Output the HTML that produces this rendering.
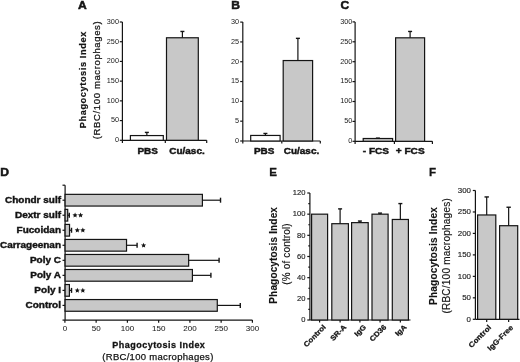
<!DOCTYPE html>
<html><head><meta charset="utf-8"><style>
html,body{margin:0;padding:0;background:#fff;}
body{width:520px;height:362px;overflow:hidden;}
svg{display:block;font-family:"Liberation Sans", sans-serif;filter:grayscale(1);}
</style></head><body>
<svg width="520" height="362" viewBox="0 0 520 362">
<rect x="0" y="0" width="520" height="362" fill="#fff"/>
<text transform="translate(78.00 8.70) scale(1.100 1)" font-size="11" font-weight="bold" text-anchor="start" fill="#141414" stroke="#141414" stroke-width="0.5">A</text>
<text transform="translate(86.30 79.70) rotate(-90)" font-size="9.2" font-weight="bold" text-anchor="middle" fill="#141414" stroke="#141414" stroke-width="0.2" letter-spacing="0.6">Phagocytosis Index</text>
<text transform="translate(99.60 79.98) rotate(-90)" font-size="9.5" font-weight="normal" text-anchor="middle" fill="#141414" stroke="#141414" stroke-width="0.25" letter-spacing="0.64">(RBC/100 macrophages)</text>
<line x1="122.40" y1="22.00" x2="122.40" y2="142.90" stroke="#141414" stroke-width="1.2"/>
<line x1="119.80" y1="140.30" x2="122.40" y2="140.30" stroke="#141414" stroke-width="1.2"/>
<text transform="translate(119.00 142.10)" font-size="7.3" font-weight="normal" text-anchor="end" fill="#222">0</text>
<line x1="119.80" y1="120.58" x2="122.40" y2="120.58" stroke="#141414" stroke-width="1.2"/>
<text transform="translate(119.00 122.38)" font-size="7.3" font-weight="normal" text-anchor="end" fill="#222">50</text>
<line x1="119.80" y1="100.87" x2="122.40" y2="100.87" stroke="#141414" stroke-width="1.2"/>
<text transform="translate(119.00 102.67)" font-size="7.3" font-weight="normal" text-anchor="end" fill="#222">100</text>
<line x1="119.80" y1="81.15" x2="122.40" y2="81.15" stroke="#141414" stroke-width="1.2"/>
<text transform="translate(119.00 82.95)" font-size="7.3" font-weight="normal" text-anchor="end" fill="#222">150</text>
<line x1="119.80" y1="61.43" x2="122.40" y2="61.43" stroke="#141414" stroke-width="1.2"/>
<text transform="translate(119.00 63.23)" font-size="7.3" font-weight="normal" text-anchor="end" fill="#222">200</text>
<line x1="119.80" y1="41.72" x2="122.40" y2="41.72" stroke="#141414" stroke-width="1.2"/>
<text transform="translate(119.00 43.52)" font-size="7.3" font-weight="normal" text-anchor="end" fill="#222">250</text>
<line x1="119.80" y1="22.00" x2="122.40" y2="22.00" stroke="#141414" stroke-width="1.2"/>
<text transform="translate(119.00 23.80)" font-size="7.3" font-weight="normal" text-anchor="end" fill="#222">300</text>
<line x1="122.40" y1="140.30" x2="206.70" y2="140.30" stroke="#141414" stroke-width="1.2"/>
<line x1="165.30" y1="140.30" x2="165.30" y2="142.90" stroke="#141414" stroke-width="1.2"/>
<line x1="206.70" y1="140.30" x2="206.70" y2="142.90" stroke="#141414" stroke-width="1.2"/>
<rect x="130.40" y="135.57" width="32.90" height="4.73" fill="#ffffff" stroke="#141414" stroke-width="1.2"/>
<line x1="146.85" y1="132.41" x2="146.85" y2="135.57" stroke="#141414" stroke-width="1.2"/>
<line x1="144.85" y1="132.41" x2="148.85" y2="132.41" stroke="#141414" stroke-width="1.4"/>
<text transform="translate(147.70 154.40) scale(1.060 1)" font-size="9.4" font-weight="bold" text-anchor="middle" fill="#141414" stroke="#141414" stroke-width="0.45">PBS</text>
<rect x="166.50" y="37.77" width="31.80" height="102.53" fill="#c8c8c8" stroke="#141414" stroke-width="1.2"/>
<line x1="182.40" y1="31.46" x2="182.40" y2="37.77" stroke="#141414" stroke-width="1.2"/>
<line x1="180.40" y1="31.46" x2="184.40" y2="31.46" stroke="#141414" stroke-width="1.4"/>
<text transform="translate(187.00 154.40) scale(1.060 1)" font-size="9.4" font-weight="bold" text-anchor="middle" fill="#141414" stroke="#141414" stroke-width="0.45">Cu/asc.</text>
<text transform="translate(231.20 8.70) scale(1.100 1)" font-size="11" font-weight="bold" text-anchor="start" fill="#141414" stroke="#141414" stroke-width="0.5">B</text>
<line x1="242.80" y1="22.10" x2="242.80" y2="143.60" stroke="#141414" stroke-width="1.2"/>
<line x1="240.20" y1="141.00" x2="242.80" y2="141.00" stroke="#141414" stroke-width="1.2"/>
<text transform="translate(239.00 142.80)" font-size="7.3" font-weight="normal" text-anchor="end" fill="#222">0</text>
<line x1="240.20" y1="121.18" x2="242.80" y2="121.18" stroke="#141414" stroke-width="1.2"/>
<text transform="translate(239.00 122.98)" font-size="7.3" font-weight="normal" text-anchor="end" fill="#222">5</text>
<line x1="240.20" y1="101.37" x2="242.80" y2="101.37" stroke="#141414" stroke-width="1.2"/>
<text transform="translate(239.00 103.17)" font-size="7.3" font-weight="normal" text-anchor="end" fill="#222">10</text>
<line x1="240.20" y1="81.55" x2="242.80" y2="81.55" stroke="#141414" stroke-width="1.2"/>
<text transform="translate(239.00 83.35)" font-size="7.3" font-weight="normal" text-anchor="end" fill="#222">15</text>
<line x1="240.20" y1="61.73" x2="242.80" y2="61.73" stroke="#141414" stroke-width="1.2"/>
<text transform="translate(239.00 63.53)" font-size="7.3" font-weight="normal" text-anchor="end" fill="#222">20</text>
<line x1="240.20" y1="41.92" x2="242.80" y2="41.92" stroke="#141414" stroke-width="1.2"/>
<text transform="translate(239.00 43.72)" font-size="7.3" font-weight="normal" text-anchor="end" fill="#222">25</text>
<line x1="240.20" y1="22.10" x2="242.80" y2="22.10" stroke="#141414" stroke-width="1.2"/>
<text transform="translate(239.00 23.90)" font-size="7.3" font-weight="normal" text-anchor="end" fill="#222">30</text>
<line x1="242.80" y1="141.00" x2="320.30" y2="141.00" stroke="#141414" stroke-width="1.2"/>
<line x1="281.80" y1="141.00" x2="281.80" y2="143.60" stroke="#141414" stroke-width="1.2"/>
<line x1="320.30" y1="141.00" x2="320.30" y2="143.60" stroke="#141414" stroke-width="1.2"/>
<rect x="250.70" y="135.45" width="29.40" height="5.55" fill="#ffffff" stroke="#141414" stroke-width="1.2"/>
<line x1="265.40" y1="133.47" x2="265.40" y2="135.45" stroke="#141414" stroke-width="1.2"/>
<line x1="263.40" y1="133.47" x2="267.40" y2="133.47" stroke="#141414" stroke-width="1.4"/>
<text transform="translate(264.10 154.40) scale(1.060 1)" font-size="9.4" font-weight="bold" text-anchor="middle" fill="#141414" stroke="#141414" stroke-width="0.45">PBS</text>
<rect x="283.20" y="60.54" width="29.40" height="80.46" fill="#c8c8c8" stroke="#141414" stroke-width="1.2"/>
<line x1="297.90" y1="38.35" x2="297.90" y2="60.54" stroke="#141414" stroke-width="1.2"/>
<line x1="295.90" y1="38.35" x2="299.90" y2="38.35" stroke="#141414" stroke-width="1.4"/>
<text transform="translate(301.50 154.40) scale(1.060 1)" font-size="9.4" font-weight="bold" text-anchor="middle" fill="#141414" stroke="#141414" stroke-width="0.45">Cu/asc.</text>
<text transform="translate(340.50 8.70) scale(1.100 1)" font-size="11" font-weight="bold" text-anchor="start" fill="#141414" stroke="#141414" stroke-width="0.5">C</text>
<line x1="355.10" y1="21.90" x2="355.10" y2="143.90" stroke="#141414" stroke-width="1.2"/>
<line x1="352.50" y1="141.30" x2="355.10" y2="141.30" stroke="#141414" stroke-width="1.2"/>
<text transform="translate(352.40 143.10)" font-size="7.3" font-weight="normal" text-anchor="end" fill="#222">0</text>
<line x1="352.50" y1="121.40" x2="355.10" y2="121.40" stroke="#141414" stroke-width="1.2"/>
<text transform="translate(352.40 123.20)" font-size="7.3" font-weight="normal" text-anchor="end" fill="#222">50</text>
<line x1="352.50" y1="101.50" x2="355.10" y2="101.50" stroke="#141414" stroke-width="1.2"/>
<text transform="translate(352.40 103.30)" font-size="7.3" font-weight="normal" text-anchor="end" fill="#222">100</text>
<line x1="352.50" y1="81.60" x2="355.10" y2="81.60" stroke="#141414" stroke-width="1.2"/>
<text transform="translate(352.40 83.40)" font-size="7.3" font-weight="normal" text-anchor="end" fill="#222">150</text>
<line x1="352.50" y1="61.70" x2="355.10" y2="61.70" stroke="#141414" stroke-width="1.2"/>
<text transform="translate(352.40 63.50)" font-size="7.3" font-weight="normal" text-anchor="end" fill="#222">200</text>
<line x1="352.50" y1="41.80" x2="355.10" y2="41.80" stroke="#141414" stroke-width="1.2"/>
<text transform="translate(352.40 43.60)" font-size="7.3" font-weight="normal" text-anchor="end" fill="#222">250</text>
<line x1="352.50" y1="21.90" x2="355.10" y2="21.90" stroke="#141414" stroke-width="1.2"/>
<text transform="translate(352.40 23.70)" font-size="7.3" font-weight="normal" text-anchor="end" fill="#222">300</text>
<line x1="355.10" y1="141.30" x2="432.40" y2="141.30" stroke="#141414" stroke-width="1.2"/>
<line x1="394.40" y1="141.30" x2="394.40" y2="143.90" stroke="#141414" stroke-width="1.2"/>
<line x1="432.40" y1="141.30" x2="432.40" y2="143.90" stroke="#141414" stroke-width="1.2"/>
<rect x="363.20" y="138.51" width="29.40" height="2.79" fill="#c8c8c8" stroke="#141414" stroke-width="1.2"/>
<line x1="377.90" y1="138.12" x2="377.90" y2="138.51" stroke="#141414" stroke-width="1.2"/>
<line x1="375.90" y1="138.12" x2="379.90" y2="138.12" stroke="#141414" stroke-width="1.4"/>
<text transform="translate(375.90 154.40) scale(1.050 1)" font-size="9.6" font-weight="bold" text-anchor="middle" fill="#141414" stroke="#141414" stroke-width="0.45">- FCS</text>
<rect x="395.60" y="37.82" width="29.00" height="103.48" fill="#c8c8c8" stroke="#141414" stroke-width="1.2"/>
<line x1="410.10" y1="31.45" x2="410.10" y2="37.82" stroke="#141414" stroke-width="1.2"/>
<line x1="408.10" y1="31.45" x2="412.10" y2="31.45" stroke="#141414" stroke-width="1.4"/>
<text transform="translate(410.20 154.40) scale(1.050 1)" font-size="9.6" font-weight="bold" text-anchor="middle" fill="#141414" stroke="#141414" stroke-width="0.45">+ FCS</text>
<text transform="translate(0.30 175.70) scale(1.100 1)" font-size="11" font-weight="bold" text-anchor="start" fill="#141414" stroke="#141414" stroke-width="0.5">D</text>
<line x1="65.10" y1="185.20" x2="65.10" y2="320.10" stroke="#141414" stroke-width="1.2"/>
<line x1="62.50" y1="185.20" x2="65.10" y2="185.20" stroke="#141414" stroke-width="1.2"/>
<line x1="62.50" y1="320.10" x2="65.10" y2="320.10" stroke="#141414" stroke-width="1.2"/>
<line x1="65.10" y1="320.10" x2="252.40" y2="320.10" stroke="#141414" stroke-width="1.2"/>
<line x1="64.90" y1="320.10" x2="64.90" y2="322.70" stroke="#141414" stroke-width="1.2"/>
<text transform="translate(64.90 330.90)" font-size="8" font-weight="normal" text-anchor="middle" fill="#222" stroke="#222" stroke-width="0.05">0</text>
<line x1="96.15" y1="320.10" x2="96.15" y2="322.70" stroke="#141414" stroke-width="1.2"/>
<text transform="translate(96.15 330.90)" font-size="8" font-weight="normal" text-anchor="middle" fill="#222" stroke="#222" stroke-width="0.05">50</text>
<line x1="127.40" y1="320.10" x2="127.40" y2="322.70" stroke="#141414" stroke-width="1.2"/>
<text transform="translate(127.40 330.90)" font-size="8" font-weight="normal" text-anchor="middle" fill="#222" stroke="#222" stroke-width="0.05">100</text>
<line x1="158.65" y1="320.10" x2="158.65" y2="322.70" stroke="#141414" stroke-width="1.2"/>
<text transform="translate(158.65 330.90)" font-size="8" font-weight="normal" text-anchor="middle" fill="#222" stroke="#222" stroke-width="0.05">150</text>
<line x1="189.90" y1="320.10" x2="189.90" y2="322.70" stroke="#141414" stroke-width="1.2"/>
<text transform="translate(189.90 330.90)" font-size="8" font-weight="normal" text-anchor="middle" fill="#222" stroke="#222" stroke-width="0.05">200</text>
<line x1="221.15" y1="320.10" x2="221.15" y2="322.70" stroke="#141414" stroke-width="1.2"/>
<text transform="translate(221.15 330.90)" font-size="8" font-weight="normal" text-anchor="middle" fill="#222" stroke="#222" stroke-width="0.05">250</text>
<line x1="252.40" y1="320.10" x2="252.40" y2="322.70" stroke="#141414" stroke-width="1.2"/>
<text transform="translate(252.40 330.90)" font-size="8" font-weight="normal" text-anchor="middle" fill="#222" stroke="#222" stroke-width="0.05">300</text>
<line x1="62.50" y1="200.20" x2="65.10" y2="200.20" stroke="#141414" stroke-width="1.2"/>
<text transform="translate(61.00 203.20) scale(1.110 1)" font-size="9" font-weight="bold" text-anchor="end" fill="#141414" stroke="#141414" stroke-width="0.4">Chondr sulf</text>
<rect x="65.10" y="194.35" width="137.30" height="11.70" fill="#c8c8c8" stroke="#141414" stroke-width="1.2"/>
<line x1="202.40" y1="200.20" x2="220.53" y2="200.20" stroke="#141414" stroke-width="1.2"/>
<line x1="220.53" y1="197.70" x2="220.53" y2="202.70" stroke="#141414" stroke-width="1.4"/>
<line x1="62.50" y1="215.23" x2="65.10" y2="215.23" stroke="#141414" stroke-width="1.2"/>
<text transform="translate(61.00 218.23) scale(1.110 1)" font-size="9" font-weight="bold" text-anchor="end" fill="#141414" stroke="#141414" stroke-width="0.4">Dextr sulf</text>
<rect x="65.10" y="209.38" width="2.61" height="11.70" fill="#c8c8c8" stroke="#141414" stroke-width="1.2"/>
<line x1="67.71" y1="215.23" x2="69.28" y2="215.23" stroke="#141414" stroke-width="1.2"/>
<line x1="69.28" y1="212.73" x2="69.28" y2="217.73" stroke="#141414" stroke-width="1.4"/>
<polygon points="75.08,212.58 75.81,214.32 77.69,214.48 76.26,215.72 76.69,217.55 75.08,216.58 73.46,217.55 73.89,215.72 72.46,214.48 74.34,214.32" fill="#141414"/>
<polygon points="80.58,212.58 81.31,214.32 83.19,214.48 81.76,215.72 82.19,217.55 80.58,216.58 78.96,217.55 79.39,215.72 77.96,214.48 79.84,214.32" fill="#141414"/>
<line x1="62.50" y1="230.26" x2="65.10" y2="230.26" stroke="#141414" stroke-width="1.2"/>
<text transform="translate(61.00 233.26) scale(1.110 1)" font-size="9" font-weight="bold" text-anchor="end" fill="#141414" stroke="#141414" stroke-width="0.4">Fucoidan</text>
<rect x="65.10" y="224.41" width="4.43" height="11.70" fill="#c8c8c8" stroke="#141414" stroke-width="1.2"/>
<line x1="69.53" y1="230.26" x2="71.53" y2="230.26" stroke="#141414" stroke-width="1.2"/>
<line x1="71.53" y1="227.76" x2="71.53" y2="232.76" stroke="#141414" stroke-width="1.4"/>
<polygon points="77.33,227.61 78.06,229.35 79.94,229.51 78.51,230.75 78.94,232.58 77.33,231.61 75.71,232.58 76.14,230.75 74.71,229.51 76.59,229.35" fill="#141414"/>
<polygon points="82.83,227.61 83.56,229.35 85.44,229.51 84.01,230.75 84.44,232.58 82.83,231.61 81.21,232.58 81.64,230.75 80.21,229.51 82.09,229.35" fill="#141414"/>
<line x1="62.50" y1="245.29" x2="65.10" y2="245.29" stroke="#141414" stroke-width="1.2"/>
<text transform="translate(61.00 248.29) scale(1.110 1)" font-size="9" font-weight="bold" text-anchor="end" fill="#141414" stroke="#141414" stroke-width="0.4">Carrageenan</text>
<rect x="65.10" y="239.44" width="61.43" height="11.70" fill="#c8c8c8" stroke="#141414" stroke-width="1.2"/>
<line x1="126.53" y1="245.29" x2="137.09" y2="245.29" stroke="#141414" stroke-width="1.2"/>
<line x1="137.09" y1="242.79" x2="137.09" y2="247.79" stroke="#141414" stroke-width="1.4"/>
<polygon points="143.59,242.64 144.32,244.38 146.20,244.54 144.78,245.78 145.20,247.61 143.59,246.64 141.97,247.61 142.40,245.78 140.97,244.54 142.85,244.38" fill="#141414"/>
<line x1="62.50" y1="260.32" x2="65.10" y2="260.32" stroke="#141414" stroke-width="1.2"/>
<text transform="translate(61.00 263.32) scale(1.110 1)" font-size="9" font-weight="bold" text-anchor="end" fill="#141414" stroke="#141414" stroke-width="0.4">Poly C</text>
<rect x="65.10" y="254.47" width="123.55" height="11.70" fill="#c8c8c8" stroke="#141414" stroke-width="1.2"/>
<line x1="188.65" y1="260.32" x2="219.09" y2="260.32" stroke="#141414" stroke-width="1.2"/>
<line x1="219.09" y1="257.82" x2="219.09" y2="262.82" stroke="#141414" stroke-width="1.4"/>
<line x1="62.50" y1="275.35" x2="65.10" y2="275.35" stroke="#141414" stroke-width="1.2"/>
<text transform="translate(61.00 278.35) scale(1.110 1)" font-size="9" font-weight="bold" text-anchor="end" fill="#141414" stroke="#141414" stroke-width="0.4">Poly A</text>
<rect x="65.10" y="269.50" width="127.30" height="11.70" fill="#c8c8c8" stroke="#141414" stroke-width="1.2"/>
<line x1="192.40" y1="275.35" x2="210.90" y2="275.35" stroke="#141414" stroke-width="1.2"/>
<line x1="210.90" y1="272.85" x2="210.90" y2="277.85" stroke="#141414" stroke-width="1.4"/>
<line x1="62.50" y1="290.38" x2="65.10" y2="290.38" stroke="#141414" stroke-width="1.2"/>
<text transform="translate(61.00 293.38) scale(1.110 1)" font-size="9" font-weight="bold" text-anchor="end" fill="#141414" stroke="#141414" stroke-width="0.4">Poly I</text>
<rect x="65.10" y="284.53" width="4.30" height="11.70" fill="#c8c8c8" stroke="#141414" stroke-width="1.2"/>
<line x1="69.40" y1="290.38" x2="71.53" y2="290.38" stroke="#141414" stroke-width="1.2"/>
<line x1="71.53" y1="287.88" x2="71.53" y2="292.88" stroke="#141414" stroke-width="1.4"/>
<polygon points="77.33,287.73 78.06,289.47 79.94,289.63 78.51,290.87 78.94,292.70 77.33,291.73 75.71,292.70 76.14,290.87 74.71,289.63 76.59,289.47" fill="#141414"/>
<polygon points="82.83,287.73 83.56,289.47 85.44,289.63 84.01,290.87 84.44,292.70 82.83,291.73 81.21,292.70 81.64,290.87 80.21,289.63 82.09,289.47" fill="#141414"/>
<line x1="62.50" y1="305.41" x2="65.10" y2="305.41" stroke="#141414" stroke-width="1.2"/>
<text transform="translate(61.00 308.41) scale(1.110 1)" font-size="9" font-weight="bold" text-anchor="end" fill="#141414" stroke="#141414" stroke-width="0.4">Control</text>
<rect x="65.10" y="299.56" width="152.18" height="11.70" fill="#c8c8c8" stroke="#141414" stroke-width="1.2"/>
<line x1="217.28" y1="305.41" x2="240.28" y2="305.41" stroke="#141414" stroke-width="1.2"/>
<line x1="240.28" y1="302.91" x2="240.28" y2="307.91" stroke="#141414" stroke-width="1.4"/>
<text transform="translate(158.84 347.60)" font-size="9" font-weight="bold" text-anchor="middle" fill="#141414" stroke="#141414" stroke-width="0.3" letter-spacing="0.47">Phagocytosis Index</text>
<text transform="translate(157.95 359.70)" font-size="9.5" font-weight="normal" text-anchor="middle" fill="#141414" stroke="#141414" stroke-width="0.25" letter-spacing="0.3">(RBC/100 macrophages)</text>
<text transform="translate(269.20 175.60)" font-size="11.6" font-weight="bold" text-anchor="start" fill="#141414" stroke="#141414" stroke-width="0.3">E</text>
<text transform="translate(277.40 255.32) rotate(-90)" font-size="10" font-weight="bold" text-anchor="middle" fill="#141414" stroke="#141414" stroke-width="0.1" letter-spacing="0.16">Phagocytosis Index</text>
<text transform="translate(289.90 253.93) rotate(-90)" font-size="10" font-weight="normal" text-anchor="middle" fill="#141414" stroke="#141414" stroke-width="0.15" letter-spacing="0.14">(% of control)</text>
<line x1="309.90" y1="193.00" x2="309.90" y2="320.00" stroke="#141414" stroke-width="1.2"/>
<line x1="307.30" y1="320.00" x2="309.90" y2="320.00" stroke="#141414" stroke-width="1.2"/>
<text transform="translate(305.50 322.30) scale(0.950 1)" font-size="8.0" font-weight="normal" text-anchor="end" fill="#222" stroke="#222" stroke-width="0.15">0</text>
<line x1="307.30" y1="298.83" x2="309.90" y2="298.83" stroke="#141414" stroke-width="1.2"/>
<text transform="translate(305.50 301.13) scale(0.950 1)" font-size="8.0" font-weight="normal" text-anchor="end" fill="#222" stroke="#222" stroke-width="0.15">20</text>
<line x1="307.30" y1="277.67" x2="309.90" y2="277.67" stroke="#141414" stroke-width="1.2"/>
<text transform="translate(305.50 279.97) scale(0.950 1)" font-size="8.0" font-weight="normal" text-anchor="end" fill="#222" stroke="#222" stroke-width="0.15">40</text>
<line x1="307.30" y1="256.50" x2="309.90" y2="256.50" stroke="#141414" stroke-width="1.2"/>
<text transform="translate(305.50 258.80) scale(0.950 1)" font-size="8.0" font-weight="normal" text-anchor="end" fill="#222" stroke="#222" stroke-width="0.15">60</text>
<line x1="307.30" y1="235.33" x2="309.90" y2="235.33" stroke="#141414" stroke-width="1.2"/>
<text transform="translate(305.50 237.63) scale(0.950 1)" font-size="8.0" font-weight="normal" text-anchor="end" fill="#222" stroke="#222" stroke-width="0.15">80</text>
<line x1="307.30" y1="214.17" x2="309.90" y2="214.17" stroke="#141414" stroke-width="1.2"/>
<text transform="translate(305.50 216.47) scale(0.950 1)" font-size="8.0" font-weight="normal" text-anchor="end" fill="#222" stroke="#222" stroke-width="0.15">100</text>
<line x1="307.30" y1="193.00" x2="309.90" y2="193.00" stroke="#141414" stroke-width="1.2"/>
<text transform="translate(305.50 195.30) scale(0.950 1)" font-size="8.0" font-weight="normal" text-anchor="end" fill="#222" stroke="#222" stroke-width="0.15">120</text>
<line x1="308.30" y1="309.42" x2="309.90" y2="309.42" stroke="#141414" stroke-width="1.2"/>
<line x1="308.30" y1="288.25" x2="309.90" y2="288.25" stroke="#141414" stroke-width="1.2"/>
<line x1="308.30" y1="267.08" x2="309.90" y2="267.08" stroke="#141414" stroke-width="1.2"/>
<line x1="308.30" y1="245.92" x2="309.90" y2="245.92" stroke="#141414" stroke-width="1.2"/>
<line x1="308.30" y1="224.75" x2="309.90" y2="224.75" stroke="#141414" stroke-width="1.2"/>
<line x1="308.30" y1="203.58" x2="309.90" y2="203.58" stroke="#141414" stroke-width="1.2"/>
<line x1="309.90" y1="320.00" x2="410.50" y2="320.00" stroke="#141414" stroke-width="1.2"/>
<line x1="319.60" y1="320.00" x2="319.60" y2="322.60" stroke="#141414" stroke-width="1.2"/>
<line x1="340.10" y1="320.00" x2="340.10" y2="322.60" stroke="#141414" stroke-width="1.2"/>
<line x1="359.90" y1="320.00" x2="359.90" y2="322.60" stroke="#141414" stroke-width="1.2"/>
<line x1="380.05" y1="320.00" x2="380.05" y2="322.60" stroke="#141414" stroke-width="1.2"/>
<line x1="400.35" y1="320.00" x2="400.35" y2="322.60" stroke="#141414" stroke-width="1.2"/>
<rect x="311.60" y="214.17" width="16.00" height="105.83" fill="#c8c8c8" stroke="#141414" stroke-width="1.2"/>
<text transform="translate(326.30 327.60) rotate(-45) scale(1.100 1)" font-size="7.2" font-weight="bold" text-anchor="end" fill="#141414" stroke="#141414" stroke-width="0.25">Control</text>
<rect x="331.80" y="223.69" width="16.60" height="96.31" fill="#c8c8c8" stroke="#141414" stroke-width="1.2"/>
<line x1="340.10" y1="208.88" x2="340.10" y2="223.69" stroke="#141414" stroke-width="1.2"/>
<line x1="338.10" y1="208.88" x2="342.10" y2="208.88" stroke="#141414" stroke-width="1.4"/>
<text transform="translate(346.80 327.60) rotate(-45) scale(1.100 1)" font-size="7.2" font-weight="bold" text-anchor="end" fill="#141414" stroke="#141414" stroke-width="0.25">SR-A</text>
<rect x="351.60" y="222.63" width="16.60" height="97.37" fill="#c8c8c8" stroke="#141414" stroke-width="1.2"/>
<line x1="359.90" y1="221.05" x2="359.90" y2="222.63" stroke="#141414" stroke-width="1.2"/>
<line x1="357.90" y1="221.05" x2="361.90" y2="221.05" stroke="#141414" stroke-width="1.4"/>
<text transform="translate(366.60 327.60) rotate(-45) scale(1.100 1)" font-size="7.2" font-weight="bold" text-anchor="end" fill="#141414" stroke="#141414" stroke-width="0.25">IgG</text>
<rect x="372.00" y="214.17" width="16.10" height="105.83" fill="#c8c8c8" stroke="#141414" stroke-width="1.2"/>
<line x1="380.05" y1="213.11" x2="380.05" y2="214.17" stroke="#141414" stroke-width="1.2"/>
<line x1="378.05" y1="213.11" x2="382.05" y2="213.11" stroke="#141414" stroke-width="1.4"/>
<text transform="translate(386.75 327.60) rotate(-45) scale(1.100 1)" font-size="7.2" font-weight="bold" text-anchor="end" fill="#141414" stroke="#141414" stroke-width="0.25">CD36</text>
<rect x="392.30" y="219.46" width="16.10" height="100.54" fill="#c8c8c8" stroke="#141414" stroke-width="1.2"/>
<line x1="400.35" y1="203.58" x2="400.35" y2="219.46" stroke="#141414" stroke-width="1.2"/>
<line x1="398.35" y1="203.58" x2="402.35" y2="203.58" stroke="#141414" stroke-width="1.4"/>
<text transform="translate(407.05 327.60) rotate(-45) scale(1.100 1)" font-size="7.2" font-weight="bold" text-anchor="end" fill="#141414" stroke="#141414" stroke-width="0.25">IgA</text>
<text transform="translate(429.00 175.60)" font-size="11.6" font-weight="bold" text-anchor="start" fill="#141414" stroke="#141414" stroke-width="0.3">F</text>
<text transform="translate(436.50 255.99) rotate(-90)" font-size="10" font-weight="bold" text-anchor="middle" fill="#141414" stroke="#141414" stroke-width="0.1" letter-spacing="0.22">Phagocytosis Index</text>
<text transform="translate(449.70 255.78) rotate(-90)" font-size="10" font-weight="normal" text-anchor="middle" fill="#141414" stroke="#141414" stroke-width="0.15" letter-spacing="0.24">(RBC/100 macrophages)</text>
<line x1="475.40" y1="190.50" x2="475.40" y2="319.30" stroke="#141414" stroke-width="1.2"/>
<line x1="472.80" y1="319.30" x2="475.40" y2="319.30" stroke="#141414" stroke-width="1.2"/>
<text transform="translate(471.00 321.80)" font-size="7.9" font-weight="normal" text-anchor="end" fill="#222" stroke="#222" stroke-width="0.15">0</text>
<line x1="472.80" y1="297.83" x2="475.40" y2="297.83" stroke="#141414" stroke-width="1.2"/>
<text transform="translate(471.00 300.33)" font-size="7.9" font-weight="normal" text-anchor="end" fill="#222" stroke="#222" stroke-width="0.15">50</text>
<line x1="472.80" y1="276.37" x2="475.40" y2="276.37" stroke="#141414" stroke-width="1.2"/>
<text transform="translate(471.00 278.87)" font-size="7.9" font-weight="normal" text-anchor="end" fill="#222" stroke="#222" stroke-width="0.15">100</text>
<line x1="472.80" y1="254.90" x2="475.40" y2="254.90" stroke="#141414" stroke-width="1.2"/>
<text transform="translate(471.00 257.40)" font-size="7.9" font-weight="normal" text-anchor="end" fill="#222" stroke="#222" stroke-width="0.15">150</text>
<line x1="472.80" y1="233.43" x2="475.40" y2="233.43" stroke="#141414" stroke-width="1.2"/>
<text transform="translate(471.00 235.93)" font-size="7.9" font-weight="normal" text-anchor="end" fill="#222" stroke="#222" stroke-width="0.15">200</text>
<line x1="472.80" y1="211.97" x2="475.40" y2="211.97" stroke="#141414" stroke-width="1.2"/>
<text transform="translate(471.00 214.47)" font-size="7.9" font-weight="normal" text-anchor="end" fill="#222" stroke="#222" stroke-width="0.15">250</text>
<line x1="472.80" y1="190.50" x2="475.40" y2="190.50" stroke="#141414" stroke-width="1.2"/>
<text transform="translate(471.00 193.00)" font-size="7.9" font-weight="normal" text-anchor="end" fill="#222" stroke="#222" stroke-width="0.15">300</text>
<line x1="475.40" y1="319.30" x2="519.50" y2="319.30" stroke="#141414" stroke-width="1.2"/>
<line x1="486.70" y1="319.30" x2="486.70" y2="321.90" stroke="#141414" stroke-width="1.2"/>
<line x1="508.65" y1="319.30" x2="508.65" y2="321.90" stroke="#141414" stroke-width="1.2"/>
<rect x="477.60" y="214.97" width="18.20" height="104.33" fill="#c8c8c8" stroke="#141414" stroke-width="1.2"/>
<line x1="486.70" y1="196.94" x2="486.70" y2="214.97" stroke="#141414" stroke-width="1.2"/>
<line x1="484.50" y1="196.94" x2="488.90" y2="196.94" stroke="#141414" stroke-width="1.4"/>
<text transform="translate(491.70 328.00) rotate(-45) scale(1.100 1)" font-size="7.3" font-weight="bold" text-anchor="end" fill="#141414" stroke="#141414" stroke-width="0.25">Control</text>
<rect x="499.60" y="225.71" width="18.10" height="93.59" fill="#c8c8c8" stroke="#141414" stroke-width="1.2"/>
<line x1="508.65" y1="207.24" x2="508.65" y2="225.71" stroke="#141414" stroke-width="1.2"/>
<line x1="506.45" y1="207.24" x2="510.85" y2="207.24" stroke="#141414" stroke-width="1.4"/>
<text transform="translate(513.65 328.00) rotate(-45) scale(1.100 1)" font-size="7.3" font-weight="bold" text-anchor="end" fill="#141414" stroke="#141414" stroke-width="0.25">IgG-Free</text>
</svg>
</body></html>
